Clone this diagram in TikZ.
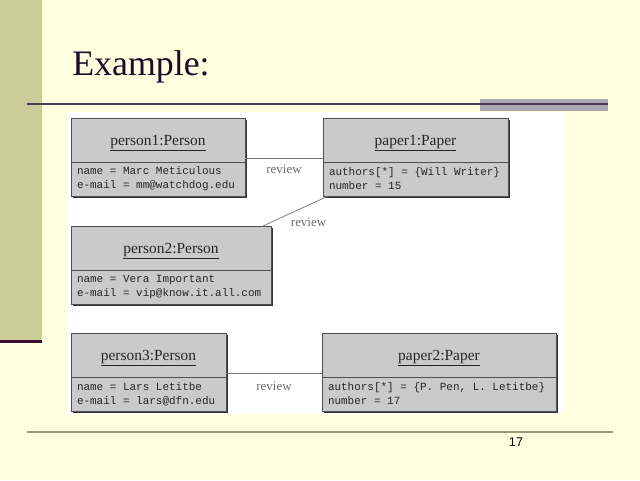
\documentclass[tikz,border=0pt]{standalone}
\usepackage{fontspec}
\setmainfont{Liberation Serif}
\setmonofont{Liberation Mono}
\newfontfamily\slidesans{Liberation Sans}
\usepackage{tikz}
\usetikzlibrary{positioning, shadows}

\definecolor{slidebg}{HTML}{FFFFDF}
\definecolor{sidebar}{HTML}{CCCC99}
\definecolor{sidebarline}{HTML}{3C0F32}
\definecolor{topline}{HTML}{4A3A55}
\definecolor{topbar}{HTML}{ABA8B4}
\definecolor{bottomline}{HTML}{999977}
\definecolor{titleink}{HTML}{1E0A28}
\definecolor{boxgray}{HTML}{CACACA}
\definecolor{boxline}{HTML}{505050}
\definecolor{linkgray}{HTML}{777777}
\definecolor{rolegray}{HTML}{6A6A6A}

\protected\def\monospaces{\spaceskip 0.6em\relax\xspaceskip 0.6em\relax}

\begin{document}
\begin{tikzpicture}[
      x=0.25mm, y=-0.25mm,
      objhead/.style={rectangle, draw=boxline, fill=boxgray, line width=0.6pt,
        anchor=north west, minimum width=#1, minimum height=11mm,
        inner sep=0pt, outer sep=0pt, text=black!85, text height=12pt,
        font=\fontsize{11}{13}\selectfont,
        drop shadow={shadow xshift=0.6mm, shadow yshift=-0.6mm, fill=black!80, opacity=1}},
      objattr/.style={rectangle, draw=boxline, fill=boxgray, line width=0.6pt,
        text width=#1, inner xsep=1.5mm, inner ysep=0pt, minimum height=8.5mm,
        outer sep=0pt, align=left, text=black!85,
        font=\ttfamily\fontsize{7.8}{10}\selectfont,
        execute at begin node=\monospaces,
        drop shadow={shadow xshift=0.6mm, shadow yshift=-0.6mm, fill=black!80, opacity=1}},
      link/.style={draw=linkgray, line width=0.5pt},
      role/.style={font=\fontsize{9.2}{11}\selectfont, text=rolegray, inner sep=1pt}
    ]
      \useasboundingbox (0,0) rectangle (640,480);
      % slide
      \fill[slidebg] (0,0) rectangle (640,480);
      \fill[sidebar] (0,0) rectangle (42,340);
      \fill[sidebarline] (0,340) rectangle (42,343);
      \fill[topbar] (480,99) rectangle (608,111);
      \draw[topline, line width=1pt] (27,104) -- (608,104);
      \draw[bottomline, line width=1.4pt] (27,432) -- (613,432);
      \node[anchor=base west, inner sep=0pt, text=titleink,
        font=\fontsize{25.5}{30}\selectfont] (title) at (72,75) {Example:};
      \node[inner sep=0pt, font=\slidesans\fontsize{9}{11}\selectfont] (pageno) at (516,442) {17};
      \fill[white] (67,112) rectangle (564,414);

      % objects
      \node[objhead=43.5mm] (pers1) at (71,118) {\underline{person1:Person}};
      \node[objattr=40.5mm, below=0pt of pers1] (pers1attr)
        {name = Marc Meticulous\\e-mail = mm@watchdog.edu};
      \node[objhead=46.25mm] (paper1) at (323,118) {\underline{paper1:Paper}};
      \node[objattr=43.25mm, below=0pt of paper1] (paper1attr)
        {authors[*] = \{Will Writer\}\\number = 15};
      \node[objhead=50mm] (pers2) at (71,226) {\underline{person2:Person}};
      \node[objattr=47mm, below=0pt of pers2] (pers2attr)
        {name = Vera Important\\e-mail = vip@know.it.all.com};
      \node[objhead=38.75mm] (pers3) at (71,333) {\underline{person3:Person}};
      \node[objattr=35.75mm, below=0pt of pers3] (pers3attr)
        {name = Lars Letitbe\\e-mail = lars@dfn.edu};
      \node[objhead=58.5mm] (paper2) at (322,333) {\underline{paper2:Paper}};
      \node[objattr=55.5mm, below=0pt of paper2] (paper2attr)
        {authors[*] = \{P. Pen, L. Letitbe\}\\number = 17};

      % links
      \draw[link] ([yshift=1mm]pers1.south east) -- node[role, below=1.2mm]{review}
        ([yshift=1mm]paper1.south west);
      \draw[link] ([xshift=1.3mm]paper1attr.south west) --
        node[role, pos=0.62, anchor=north west, inner sep=2pt]{review}
        ([xshift=-2mm]pers2.north east);
      \draw[link] ([yshift=1mm]pers3.south east) -- node[role, below=1.8mm]{review}
        ([yshift=1mm]paper2.south west);
    \end{tikzpicture}
\end{document}
